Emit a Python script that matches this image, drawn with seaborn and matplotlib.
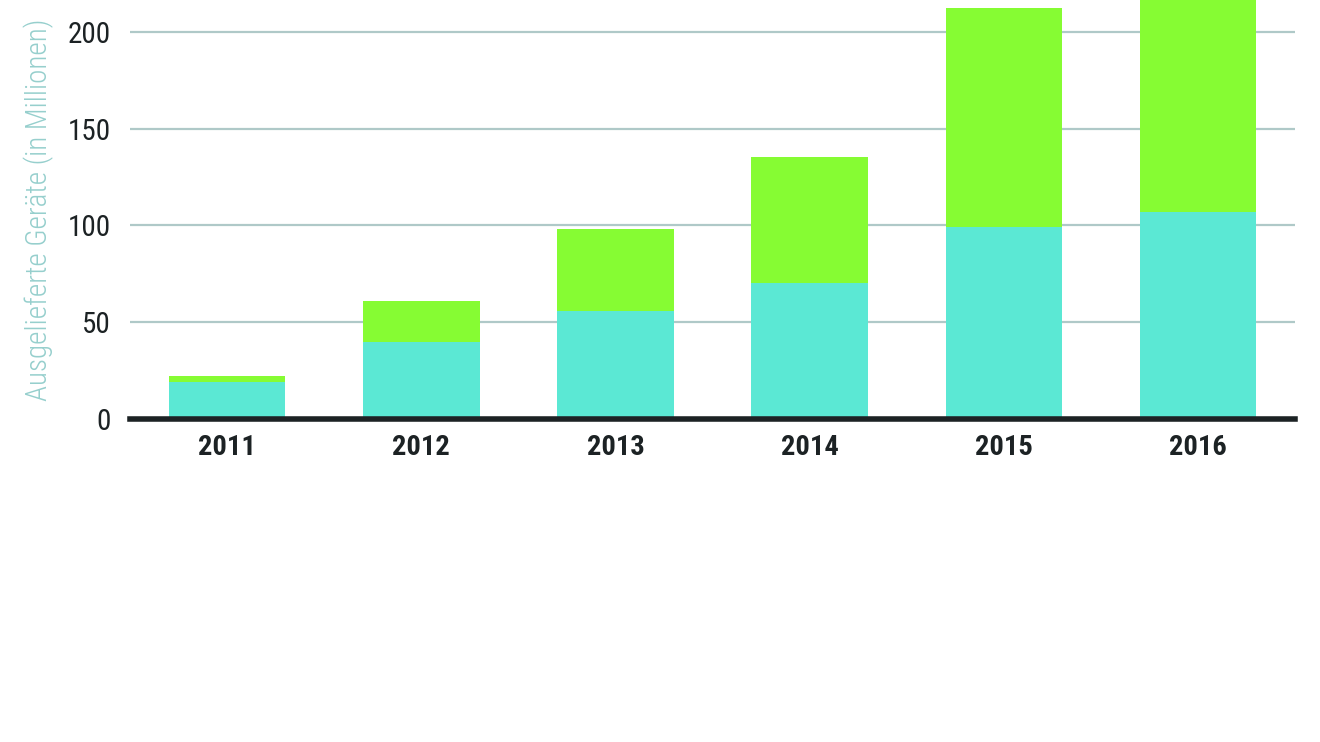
import pandas as pd
import seaborn as sns
import matplotlib.pyplot as plt

jahre = ['2011', '2012', '2013', '2014', '2015', '2016']
unten = [19.3, 39.6, 56.0, 70.5, 99.4, 106.8]     # cyan Segment
oben = [3.1, 21.5, 42.0, 65.1, 112.8, 123.0]      # gruenes Segment (2016 oben abgeschnitten)
y_ticks = [0, 50, 100, 150, 200]

df = pd.DataFrame({'Jahr': jahre, 'unten': unten, 'oben': oben})
df['gesamt'] = df['unten'] + df['oben']

sns.set_style('white')
plt.rcParams['font.family'] = ['Roboto Condensed', 'Liberation Sans Narrow', 'DejaVu Sans']

fig = plt.figure(figsize=(13.2, 7.42), dpi=100)
ax = fig.add_axes([130 / 1320, 1 - 419 / 742, 1165 / 1320, 419 / 742])

sns.barplot(x='Jahr', y='gesamt', data=df, color='#86FC33', width=0.6,
            saturation=1, linewidth=0, ax=ax, zorder=2)
sns.barplot(x='Jahr', y='unten', data=df, color='#5BE8D4', width=0.6,
            saturation=1, linewidth=0, ax=ax, zorder=3)

ax.set_xlim(-0.5, 5.5)
ax.set_ylim(0, 216.5)
ax.set_yticks(y_ticks)
ax.grid(axis='y', color='#AFC9C8', linewidth=1.6, zorder=0)
ax.set_axisbelow(True)

for s in ['top', 'right', 'left']:
    ax.spines[s].set_visible(False)
ax.spines['bottom'].set_color('#1c2224')
ax.spines['bottom'].set_linewidth(4)
ax.spines['bottom'].set_zorder(5)

ax.tick_params(axis='both', length=0)
ax.tick_params(axis='y', labelsize=21, colors='#1c2224', pad=14)
ax.tick_params(axis='x', labelsize=20.5, colors='#1c2224', pad=11)
for lab in ax.get_xticklabels():
    lab.set_fontweight('bold')

ax.set_xlabel('')
ax.set_ylabel('Ausgelieferte Geräte (in Millionen)', fontsize=21,
              color='#96CFCD', fontweight='light', labelpad=10)

fig.savefig('out.png', dpi=100, facecolor='white')
